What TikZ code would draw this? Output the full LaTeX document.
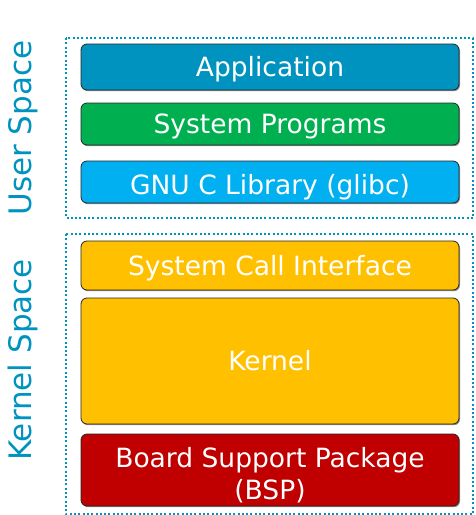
\documentclass[tikz,border=0pt]{standalone}
\usepackage{fontspec}
\setmainfont{DejaVu Sans}
\usetikzlibrary{shadows}
\definecolor{appblue}{RGB}{0,147,191}
\definecolor{sysgreen}{RGB}{0,176,80}
\definecolor{libblue}{RGB}{0,176,240}
\definecolor{kernyellow}{RGB}{255,192,0}
\definecolor{bspred}{RGB}{192,0,0}
\tikzset{
  boxtext/.style={text=white, inner sep=0pt, align=center,
    text height=19.3pt, text depth=0pt,
    font=\fontsize{26.5}{32}\selectfont},
  layer/.style={boxtext, draw=black!85, line width=0.8pt, rounded corners=6pt,
    minimum width=378pt,
    drop shadow={shadow xshift=1pt, shadow yshift=-1.2pt, fill=black!45, opacity=1}},
  space/.style={draw=appblue, line width=2pt, dash pattern=on 2pt off 2.3pt},
  spacelabel/.style={text=appblue, rotate=90, font=\fontsize{31}{34}\selectfont}
}
\begin{document}
\begin{tikzpicture}[x=1pt,y=-1pt]
  \useasboundingbox (0,0) rectangle (475,515);

  % User space
  \draw[space] (66,38) rectangle (473,218);
  \node[spacelabel] (user) at (23,128) {User Space};
  \node[layer, fill=appblue, minimum height=46pt] (app) at (270,67) {Application};
  \node[layer, fill=sysgreen, minimum height=42pt] (sysprog) at (270,124) {System Programs};
  \node[layer, fill=libblue, minimum height=42pt, text height=24pt] (glibc) at (270,182) {GNU C Library (glibc)};

  % Kernel space
  \draw[space] (66,234) rectangle (473,514);
  \node[spacelabel] (kern) at (23,360) {Kernel Space};
  \node[layer, fill=kernyellow, minimum height=49pt] (sci) at (270,265.5) {System Call Interface};
  \node[layer, fill=kernyellow, minimum height=126pt] (kernel) at (270,361) {Kernel};
  \node[layer, fill=bspred, minimum height=72pt] (bsp) at (270,470) {};
  \node[boxtext, text height=51.3pt] (bsptext) at (270,474) {Board Support Package\\(BSP)};
\end{tikzpicture}
\end{document}
